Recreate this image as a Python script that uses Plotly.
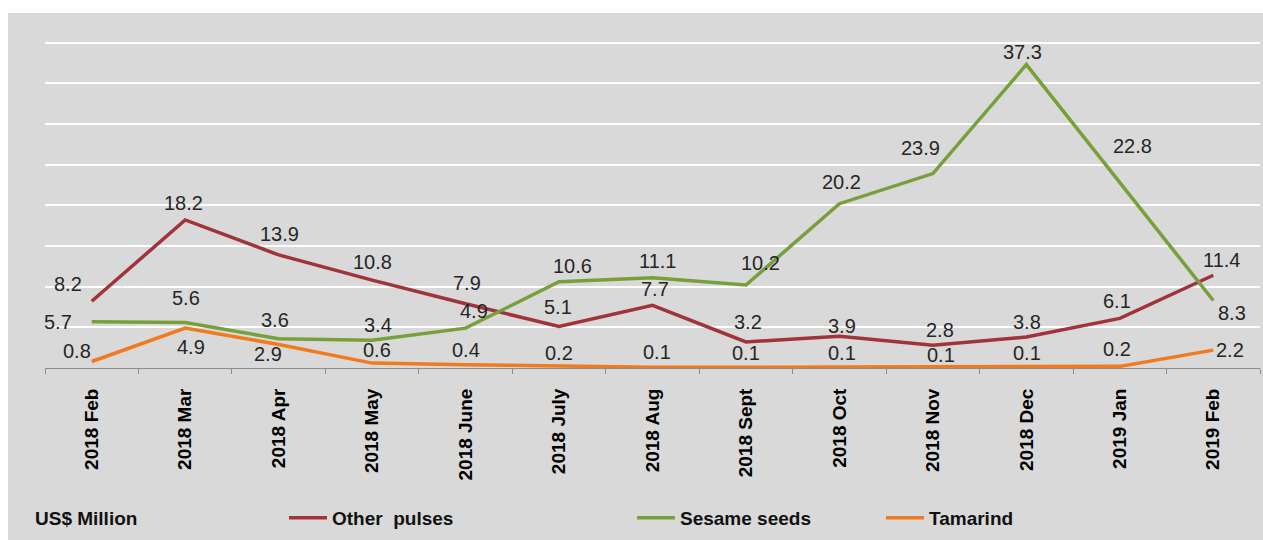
import plotly.graph_objects as go

months = ["2018 Feb", "2018 Mar", "2018 Apr", "2018 May", "2018 June", "2018 July",
          "2018 Aug", "2018 Sept", "2018 Oct", "2018 Nov", "2018 Dec", "2019 Jan", "2019 Feb"]
other_pulses = [8.2, 18.2, 13.9, 10.8, 7.9, 5.1, 7.7, 3.2, 3.9, 2.8, 3.8, 6.1, 11.4]
sesame_seeds = [5.7, 5.6, 3.6, 3.4, 4.9, 10.6, 11.1, 10.2, 20.2, 23.9, 37.3, 22.8, 8.3]
tamarind = [0.8, 4.9, 2.9, 0.6, 0.4, 0.2, 0.1, 0.1, 0.1, 0.1, 0.1, 0.2, 2.2]

# label pixel offsets (style only)
off_red = [(-24, 17), (-2, 17), (1, 21), (0, 18), (1, 21), (-1, 20), (2, 16), (2, 20),
           (3, 10), (7, 15), (1, 15), (-3, 17), (8, 15)]
off_green = [(-34, 0), (1, 24), (-4, 19), (6, 15), (8, 17), (13, 16), (5, 17), (15, 22),
             (2, 22), (-12, 26), (-4, 13), (13, 37), (19, -13)]
off_orange = [(-15, 10), (6, -19), (-11, -10), (5, 13), (0, 15), (0, 13), (4, 15), (0, 14),
              (3, 14), (8, 12), (1, 14), (-3, 17), (17, 0)]

RED = "#a0343a"
GREEN = "#77a03b"
ORANGE = "#f07a1f"
BG = "#d9d9d9"
FONT = "Liberation Sans, Arial, sans-serif"

W, H = 1263, 540
L, R, T, B = 45, 3, 41, 172
pw = W - L - R
ph = H - T - B

fig = go.Figure()
series = [("<b>Other  pulses</b>", other_pulses, RED, off_red, "legend"),
          ("<b>Sesame seeds</b>", sesame_seeds, GREEN, off_green, "legend2"),
          ("<b>Tamarind</b>", tamarind, ORANGE, off_orange, "legend3")]

for name, vals, col, offs, lg in series:
    fig.add_trace(go.Scatter(x=months, y=vals, mode="lines", name=name,
                             line=dict(color=col, width=3.5), legend=lg,
                             hoverinfo="skip"))

annotations = []
for name, vals, col, offs, lg in series:
    for m, v, (dx, dy) in zip(months, vals, offs):
        annotations.append(dict(x=m, y=v, xref="x", yref="y", text=f"{v:.1f}",
                                showarrow=False, xshift=dx, yshift=dy,
                                font=dict(family=FONT, size=20, color="#262626")))

annotations.append(dict(x=(33 - L) / pw, y=(H - B - 518) / ph, xref="paper", yref="paper",
                        text="<b>US$ Million</b>", showarrow=False,
                        xanchor="left", yanchor="middle",
                        font=dict(family=FONT, size=19, color="#111111")))

legend_common = dict(orientation="h", yref="container", y=1 - 518 / H, yanchor="middle",
                     xref="container", xanchor="left", bgcolor="rgba(0,0,0,0)",
                     font=dict(family=FONT, size=19, color="#111111"),
                     itemwidth=38)

fig.update_layout(
    width=W, height=H,
    margin=dict(l=L, r=R, t=T, b=B),
    paper_bgcolor="white",
    plot_bgcolor=BG,
    showlegend=True,
    legend=dict(x=(287 - 3) / W, **legend_common),
    legend2=dict(x=(635 - 3) / W, **legend_common),
    legend3=dict(x=(884 - 3) / W, **legend_common),
    annotations=annotations,
    shapes=[dict(type="rect", xref="paper", yref="paper",
                 x0=(8 - L) / pw, x1=(W - L) / pw,
                 y0=(H - B - H) / ph, y1=(H - B - 13) / ph,
                 fillcolor=BG, line=dict(width=0), layer="below")],
    xaxis=dict(type="category", tickson="boundaries", ticks="outside", ticklen=5,
               tickcolor="#8c8c8c", showline=True, linecolor="#8c8c8c", linewidth=1,
               showgrid=False, tickangle=-90, ticklabelstandoff=12,
               tickfont=dict(family=FONT, size=19, color="#000000"),
               tickprefix="<b>", ticksuffix="</b>",
               range=[-0.5, 12.5]),
    yaxis=dict(range=[0, 40.2], dtick=5, showgrid=True, gridcolor="white", gridwidth=1.5,
               showticklabels=False, zeroline=False, showline=False, ticks=""),
)

fig.write_html("out.html",
               config={"displayModeBar": False},
               post_script="document.body.style.margin='0px';document.body.style.overflow='hidden';")
